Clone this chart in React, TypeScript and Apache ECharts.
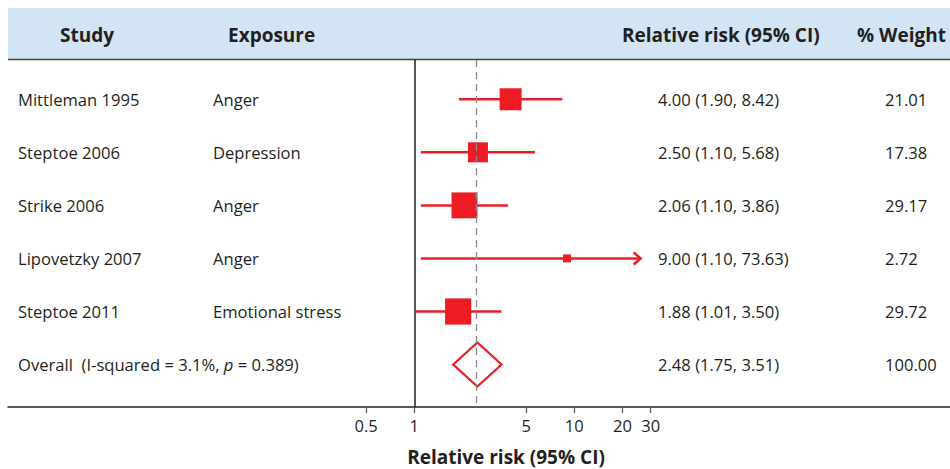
import React, { useEffect, useRef } from "react";
import * as echarts from "echarts";

// ---- data ----
const studies = ["Mittleman 1995", "Steptoe 2006", "Strike 2006", "Lipovetzky 2007", "Steptoe 2011"];
const exposures = ["Anger", "Depression", "Anger", "Anger", "Emotional stress"];
const rr = [4.0, 2.5, 2.06, 9.0, 1.88];
const lower = [1.9, 1.1, 1.1, 1.1, 1.01];
const upper = [8.42, 5.68, 3.86, 73.63, 3.5];
const weights = [21.01, 17.38, 29.17, 2.72, 29.72];
const overallLabel = "Overall  (I-squared = 3.1%, {i|p} = 0.389)";
const overallRR = [2.48];
const overallLower = [1.75];
const overallUpper = [3.51];
const overallWeight = [100.0];
const tickValues = [0.5, 1, 5, 10, 20, 30];
const headers = ["Study", "Exposure", "Relative risk (95% CI)", "% Weight"];
const axisTitle = "Relative risk (95% CI)";
const ciShownMax = 26; // plot range limit; CIs beyond it end in an arrow

// ---- style ----
const RED = "#ed1c24";
const INK = "#231f20";
const FONT = "'Open Sans', 'Noto Sans', sans-serif";
const FS = 16.6;
const HFS = 19;

const fmt = (v: number) => v.toFixed(2);

export default function App() {
  const ref = useRef<HTMLDivElement>(null);
  useEffect(() => {
    document.body.style.margin = "0";
    const chart = echarts.init(ref.current!, null, { renderer: "svg" });
    const lg = (v: number) => Math.log10(v);

    const studyData = rr.map((v, i) => [i, v, lower[i], upper[i], weights[i]]);
    const overallData = overallRR.map((v, i) => [studies.length + i, v, overallLower[i], overallUpper[i], overallWeight[i]]);
    const rowTexts = [
      ...studies.map((s, i) => ({
        value: [i, 0],
        c1: s,
        c2: exposures[i],
        c3: `${fmt(rr[i])} (${fmt(lower[i])}, ${fmt(upper[i])})`,
        c4: fmt(weights[i]),
      })),
      ...overallRR.map((v, i) => ({
        value: [studies.length + i, 0],
        c1: overallLabel,
        c2: "",
        c3: `${fmt(v)} (${fmt(overallLower[i])}, ${fmt(overallUpper[i])})`,
        c4: fmt(overallWeight[i]),
      })),
    ];

    const textStyle = (t: string, x: number, y: number) => ({
      type: "text",
      x,
      y,
      style: {
        text: t,
        fontSize: FS,
        fontFamily: FONT,
        fill: INK,
        verticalAlign: "middle",
        align: "left",
        rich: { i: { fontStyle: "italic", fontSize: FS, fontFamily: FONT, fill: INK } },
      },
    });

    chart.setOption({
      animation: false,
      grid: { left: 8, right: 0, top: 60, bottom: 62, containLabel: false },
      xAxis: {
        type: "value",
        min: -2.539,
        max: 3.348,
        axisLine: { onZero: false, lineStyle: { color: INK, width: 1.5 } },
        axisTick: {
          show: true,
          customValues: tickValues.map(lg),
          length: 6,
          lineStyle: { color: "#555", width: 1.2 },
        },
        axisLabel: {
          customValues: tickValues.map(lg),
          formatter: (v: number) => {
            const k = tickValues.find((t) => Math.abs(lg(t) - v) < 1e-6);
            return k === undefined ? "" : String(k);
          },
          fontSize: 16.5,
          fontFamily: FONT,
          color: INK,
          margin: 10,
        },
        splitLine: { show: false },
      },
      yAxis: {
        type: "value",
        inverse: true,
        min: -0.74,
        max: 5.8,
        axisLine: { show: true, onZero: true, lineStyle: { color: INK, width: 1.5 } },
        axisTick: { show: false },
        axisLabel: { show: false },
        splitLine: { show: false },
      },
      graphic: [
        { type: "rect", shape: { x: 8, y: 8, width: 942, height: 51 }, style: { fill: "#d3e5f5" }, z: 0 },
        { type: "line", shape: { x1: 8, y1: 59.5, x2: 950, y2: 59.5 }, style: { stroke: "#444", lineWidth: 1.5 } },
        ...headers.map((h, k) => ({
          type: "text",
          x: [60, 228, 622, 857][k],
          y: 35,
          style: { text: h, fontSize: HFS, fontWeight: "bold", fontFamily: FONT, fill: INK, verticalAlign: "middle" },
        })),
        {
          type: "text",
          x: 506,
          y: 457,
          style: {
            text: axisTitle,
            fontSize: HFS,
            lineHeight: 20,
            fontWeight: "bold",
            fontFamily: FONT,
            fill: INK,
            align: "center",
            verticalAlign: "middle",
          },
        },
      ],
      series: [
        {
          type: "custom",
          name: "table",
          z: 1,
          data: rowTexts,
          encode: { x: 1, y: 0 },
          renderItem: (params: any, api: any) => {
            const row = rowTexts[params.dataIndex];
            const y = api.coord([0, api.value(0)])[1];
            const kids: any[] = [textStyle(row.c1, 18, y), textStyle(row.c3, 658, y), textStyle(row.c4, 885, y)];
            if (row.c2) kids.push(textStyle(row.c2, 213, y));
            return { type: "group", children: kids };
          },
          markLine: {
            silent: true,
            symbol: "none",
            label: { show: false },
            lineStyle: { color: "#8a8a8a", width: 1.3, type: [7, 5] },
            data: overallRR.map((v) => ({ xAxis: lg(v) })),
          },
        },
        {
          type: "custom",
          name: "studies",
          z: 3,
          data: studyData,
          encode: { x: [1, 2, 3], y: 0 },
          renderItem: (params: any, api: any) => {
            const i = api.value(0);
            const est = api.value(1);
            const lo = api.value(2);
            const hi = api.value(3);
            const w = api.value(4);
            const [xE, y] = api.coord([lg(est), i]);
            const xL = api.coord([lg(lo), i])[0];
            const clipped = hi > ciShownMax;
            const xH = api.coord([lg(Math.min(hi, ciShownMax)), i])[0];
            const s = 4.8 * Math.sqrt(w);
            const kids: any[] = [
              { type: "line", shape: { x1: xL, y1: y, x2: xH, y2: y }, style: { stroke: RED, lineWidth: 2.5 } },
              { type: "rect", shape: { x: xE - s / 2, y: y - s / 2, width: s, height: s }, style: { fill: RED } },
            ];
            if (clipped) {
              kids.push({
                type: "polyline",
                shape: { points: [[xH - 7, y - 6], [xH, y], [xH - 7, y + 6]] },
                style: { stroke: RED, lineWidth: 2.5, fill: "none" },
              });
            }
            return { type: "group", children: kids };
          },
        },
        {
          type: "custom",
          name: "overall",
          z: 3,
          data: overallData,
          encode: { x: [1, 2, 3], y: 0 },
          renderItem: (params: any, api: any) => {
            const i = api.value(0);
            const [xE, y] = api.coord([lg(api.value(1)), i]);
            const xL = api.coord([lg(api.value(2)), i])[0];
            const xH = api.coord([lg(api.value(3)), i])[0];
            const h = 22;
            return {
              type: "polygon",
              shape: { points: [[xL, y], [xE, y - h], [xH, y], [xE, y + h]] },
              style: { fill: "#fff", stroke: RED, lineWidth: 2.2 },
            };
          },
        },
      ],
    });
    return () => chart.dispose();
  }, []);
  return <div ref={ref} style={{ width: 950, height: 469 }} />;
}
